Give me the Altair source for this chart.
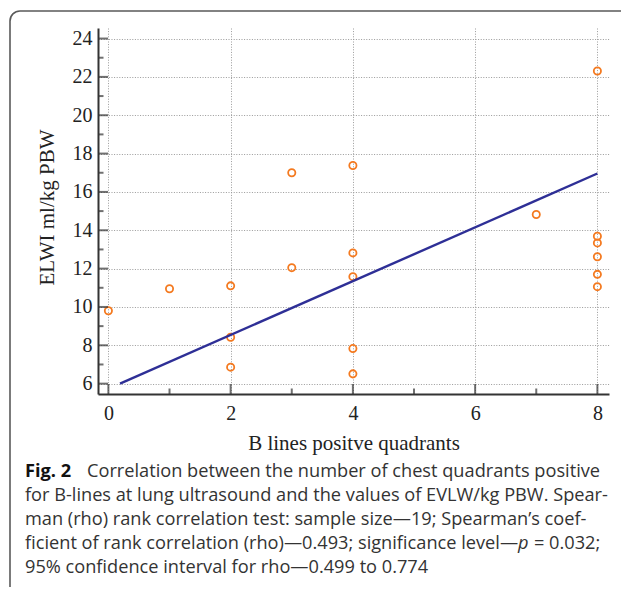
import altair as alt
import pandas as pd

# ---------------- data ----------------
b_lines = [0, 1, 2, 2, 2, 3, 3, 4, 4, 4, 4, 4, 7, 8, 8, 8, 8, 8, 8]
elwi = [9.80, 10.95, 11.10, 8.42, 6.86, 12.05, 17.00, 17.38, 12.82, 11.58,
        7.83, 6.51, 14.82, 22.31, 13.69, 13.34, 12.62, 11.70, 11.06]

fit_x = [0.19, 8.0]
fit_y = [6.0, 16.96]

x_major = [0, 2, 4, 6, 8]
x_minor = [1, 3, 5, 7]
y_major = [6, 8, 10, 12, 14, 16, 18, 20, 22, 24]
y_minor = [7, 9, 11, 13, 15, 17, 19, 21, 23]

x_title = "B lines positve quadrants"
y_title = "ELWI ml/kg PBW"

caption_bold = "Fig. 2"
caption_lines = [
    "Correlation between the number of chest quadrants positive",
    "for B-lines at lung ultrasound and the values of EVLW/kg PBW. Spear-",
    "man (rho) rank correlation test: sample size\u201419; Spearman\u2019s coef-",
    "ficient of rank correlation (rho)\u20140.493; significance level\u2014",
    "95% confidence interval for rho\u20140.499 to 0.774",
]
caption_italic = "p"
caption_tail = "= 0.032;"

# ---------------- layout ----------------
W, H = 511, 366
XDOM = [-0.17, 8.19]
YDOM = [5.46, 24.55]
SERIF = "Liberation Serif"
SANS = "Open Sans"
AXIS_COLOR = "#333333"

xs = alt.Scale(domain=XDOM, nice=False, zero=False)
ys = alt.Scale(domain=YDOM, nice=False, zero=False)

x_axis = alt.Axis(
    values=x_major, title=x_title, grid=True, ticks=False, tickSize=0,
    labelFont=SERIF, labelFontSize=20, labelColor="#222222",
    labelPadding=25, labelBaseline="alphabetic",
    titleFont=SERIF, titleFontSize=21, titleFontWeight="normal", titleColor="#222222",
    titleX=W / 2, titleY=55, titleBaseline="alphabetic", titleAlign="center",
    domainColor=AXIS_COLOR, domainWidth=2,
    gridColor="#9a9a9a", gridDash=[1, 1.6], gridWidth=1)
y_axis = alt.Axis(
    values=y_major, title=y_title, grid=True, ticks=False, tickSize=0,
    labelFont=SERIF, labelFontSize=20, labelColor="#222222", labelPadding=6,
    titleFont=SERIF, titleFontSize=21, titleFontWeight="normal", titleColor="#222222",
    titleAngle=270, titleX=-45, titleY=179, titleBaseline="alphabetic", titleAlign="center",
    domainColor=AXIS_COLOR, domainWidth=2,
    gridColor="#9a9a9a", gridDash=[1, 1.6], gridWidth=1)

X = lambda: alt.X("x:Q", scale=xs, axis=x_axis)
Y = lambda: alt.Y("y:Q", scale=ys, axis=y_axis)

pts = pd.DataFrame({"x": b_lines, "y": elwi})
fit = pd.DataFrame({"x": fit_x, "y": fit_y})

points = alt.Chart(pts).mark_point(
    shape="circle", filled=False, size=52, strokeWidth=1.8, color="#f47a20", opacity=1
).encode(x=X(), y=Y())

line = alt.Chart(fit).mark_line(color="#2e2f96", strokeWidth=2.4).encode(x=X(), y=Y())

def yticks(vals, length):
    return alt.Chart(pd.DataFrame({"y": vals})).mark_tick(
        orient="horizontal", color=AXIS_COLOR, thickness=2, size=length
    ).encode(y=Y(), x=alt.value(length / 2))

def xticks(vals, length):
    return alt.Chart(pd.DataFrame({"x": vals})).mark_tick(
        orient="vertical", color=AXIS_COLOR, thickness=2, size=length
    ).encode(x=X(), y=alt.value(H - length / 2))

frame = alt.Chart(pd.DataFrame({"a": [0]})).mark_rect(
    fillOpacity=0, stroke="#5a5a5a", strokeWidth=1.6, cornerRadius=10
).encode(x=alt.value(-88), x2=alt.value(545), y=alt.value(-17), y2=alt.value(600))

def text(t, x, y, weight="normal", style="normal", color="#333333"):
    return alt.Chart(pd.DataFrame({"t": [t]})).mark_text(
        align="left", baseline="alphabetic", font=SANS, fontSize=18.2,
        fontWeight=weight, fontStyle=style, color=color
    ).encode(x=alt.value(x), y=alt.value(y), text="t:N")

cap_x = -73
cap_y = [449, 473, 497, 521, 545]
caption = [
    text(caption_bold, cap_x, cap_y[0], weight="bold", color="#111111"),
    text(caption_lines[0], -11, cap_y[0]),
    text(caption_lines[1], cap_x, cap_y[1]),
    text(caption_lines[2], cap_x, cap_y[2]),
    text(caption_lines[3], cap_x, cap_y[3]),
    text(caption_italic, 420, cap_y[3], style="italic"),
    text(caption_tail, 436, cap_y[3]),
    text(caption_lines[4], cap_x, cap_y[4]),
]

chart = alt.layer(
    frame, points, line,
    yticks(y_major, 10), yticks(y_minor, 5.5),
    xticks(x_major, 10), xticks(x_minor, 5.5),
    *caption,
).properties(
    width=W, height=H,
    autosize=alt.AutoSizeParams(type="none"),
    padding={"left": 90, "top": 20, "right": 12, "bottom": 193},
    background="white",
).configure_view(stroke=None)

chart.save("out.html", embed_options={"renderer": "svg", "actions": False})
